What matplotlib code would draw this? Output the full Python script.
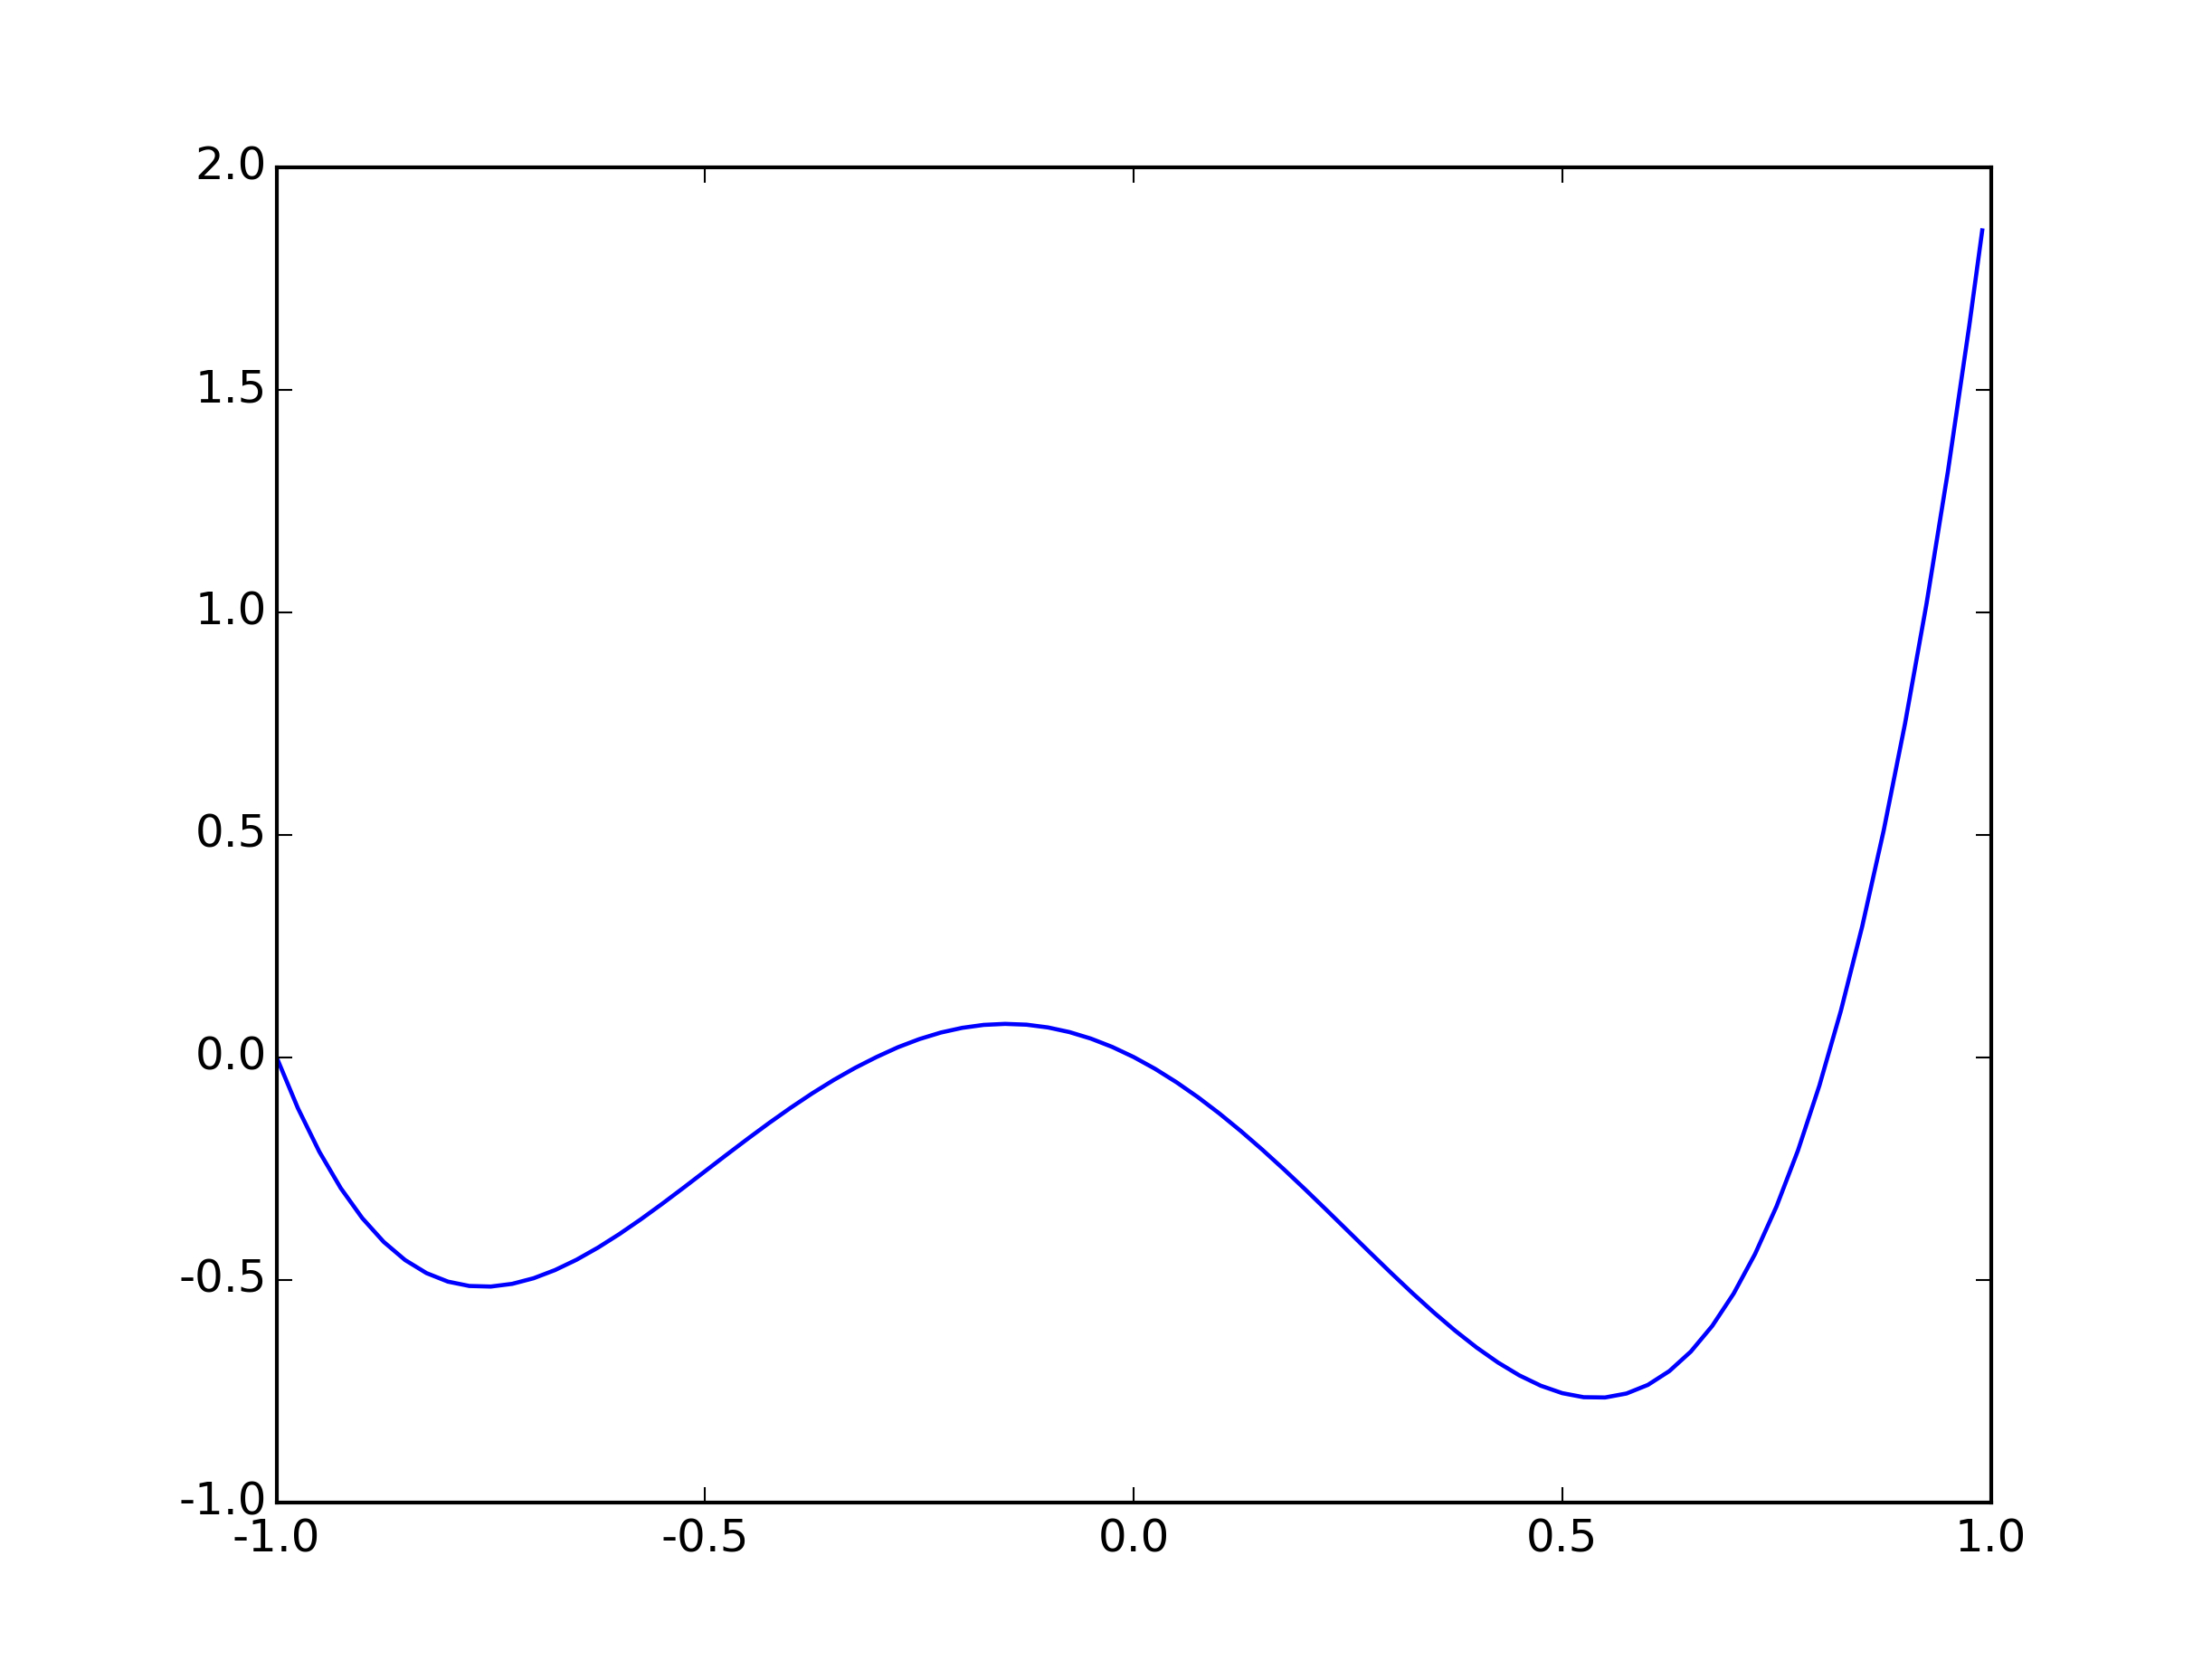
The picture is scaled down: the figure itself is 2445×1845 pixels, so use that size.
import matplotlib
matplotlib.use('Agg')
import matplotlib.pyplot as plt

# values
x_vals = [-1.000, -0.975, -0.950, -0.925, -0.900, -0.875, -0.850, -0.825, -0.800, -0.775,
          -0.750, -0.725, -0.700, -0.675, -0.650, -0.625, -0.600, -0.575, -0.550, -0.525,
          -0.500, -0.475, -0.450, -0.425, -0.400, -0.375, -0.350, -0.325, -0.300, -0.275,
          -0.250, -0.225, -0.200, -0.175, -0.150, -0.125, -0.100, -0.075, -0.050, -0.025,
          0.000, 0.025, 0.050, 0.075, 0.100, 0.125, 0.150, 0.175, 0.200, 0.225,
          0.250, 0.275, 0.300, 0.325, 0.350, 0.375, 0.400, 0.425, 0.450, 0.475,
          0.500, 0.525, 0.550, 0.575, 0.600, 0.625, 0.650, 0.675, 0.700, 0.725,
          0.750, 0.775, 0.800, 0.825, 0.850, 0.875, 0.900, 0.925, 0.950, 0.975,
          0.990]
y_vals = [0.0000, -0.1151, -0.2129, -0.2947, -0.3618, -0.4152, -0.4561, -0.4855, -0.5046, -0.5144,
          -0.5157, -0.5096, -0.4970, -0.4786, -0.4555, -0.4283, -0.3978, -0.3647, -0.3297, -0.2935,
          -0.2566, -0.2197, -0.1833, -0.1478, -0.1138, -0.0816, -0.0517, -0.0244, 0.0000, 0.0220,
          0.0403, 0.0550, 0.0656, 0.0722, 0.0745, 0.0727, 0.0665, 0.0561, 0.0415, 0.0227,
          0.0000, -0.0265, -0.0567, -0.0902, -0.1268, -0.1662, -0.2080, -0.2518, -0.2972, -0.3437,
          -0.3908, -0.4379, -0.4845, -0.5300, -0.5736, -0.6147, -0.6525, -0.6863, -0.7153, -0.7385,
          -0.7552, -0.7643, -0.7649, -0.7560, -0.7366, -0.7056, -0.6619, -0.6042, -0.5315, -0.4424,
          -0.3357, -0.2101, -0.0643, 0.1032, 0.2937, 0.5087, 0.7498, 1.0184, 1.3162, 1.6447,
          1.8573]

x_ticks = [-1.0, -0.5, 0.0, 0.5, 1.0]
y_ticks = [-1.0, -0.5, 0.0, 0.5, 1.0, 1.5, 2.0]

plt.style.use('classic')
plt.rcParams['axes.unicode_minus'] = False
plt.rcParams['font.family'] = ['DejaVu Sans']

fig = plt.figure(figsize=(8.15, 6.15), dpi=300, facecolor='white')
ax = fig.add_subplot(111)
fig.subplots_adjust(left=0.125, right=0.9, bottom=0.1, top=0.9)

ax.plot(x_vals, y_vals, color='b', linewidth=1.1)

ax.set_xlim(-1.0, 1.0)
ax.set_ylim(-1.0, 2.0)
ax.set_xticks(x_ticks)
ax.set_yticks(y_ticks)
ax.set_xticklabels([f"{t:.1f}" for t in x_ticks])
ax.set_yticklabels([f"{t:.1f}" for t in y_ticks])
ax.tick_params(direction='in', length=4, labelsize=12, top=True, right=True)
ax.tick_params(axis='y', pad=2.5)
for s in ax.spines.values():
    s.set_linewidth(1.0)

fig.savefig('out.png', dpi=300, facecolor='white')
